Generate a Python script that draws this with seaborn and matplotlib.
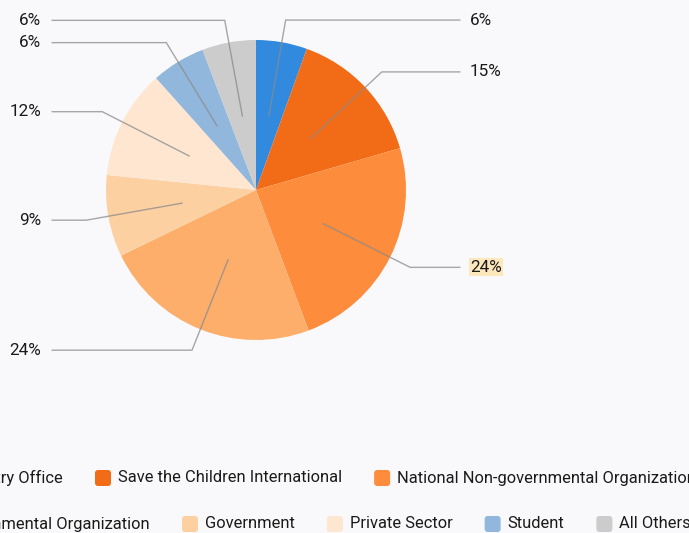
import numpy as np
import matplotlib
matplotlib.use("Agg")
import matplotlib.pyplot as plt
import seaborn as sns
from matplotlib.patches import FancyBboxPatch

categories = ["Country Office", "Save the Children International",
              "National Non-governmental Organization",
              "International Non-governmental Organization",
              "Government", "Private Sector", "Student", "All Others"]
shares = [5.5, 15.0, 23.8, 23.5, 8.8, 11.8, 5.8, 5.8]
labels = ["6%", "15%", "24%", "24%", "9%", "12%", "6%", "6%"]
colors = ["#318ade", "#f26c17", "#fd8c3c", "#fdae6b", "#fdd0a2",
          "#fee6d0", "#92b7dc", "#cccccc"]
legend_rows = [[0, 1, 2], [3, 4, 5, 6, 7]]

sns.set_theme(style="white")
plt.rcParams["font.family"] = ["Roboto", "DejaVu Sans"]

W, H = 689, 533
BG = "#f9f9fb"
fig = plt.figure(figsize=(W / 100, H / 100), dpi=100, facecolor=BG)
ax = fig.add_axes([0, 0, 1, 1])
ax.set_facecolor(BG)

cx, cy, R = 256, H - 190, 150
wedges, _ = ax.pie(shares, colors=colors, startangle=90, counterclock=False,
                   center=(cx, cy), radius=R, wedgeprops=dict(linewidth=0))
ax.set_xlim(0, W)
ax.set_ylim(0, H)
ax.set_aspect("auto")
ax.axis("off")

total = sum(shares)
cum = 0
for i, v in enumerate(shares):
    mid = (cum + v / 2) / total * 2 * np.pi
    cum += v
    dx, dy = np.sin(mid), np.cos(mid)
    p0 = (cx + 0.5 * R * dx, cy + 0.5 * R * dy)
    p1 = (cx + 1.15 * R * dx, cy + 1.15 * R * dy)
    right = dx >= 0
    xend = 460 if right else 52
    ax.plot([p0[0], p1[0], xend], [p0[1], p1[1], p1[1]], color="#8a8a8a",
            lw=1.0, alpha=0.75, solid_joinstyle="miter")
    kw = dict(fontsize=12.3, color="#1a1a1a", va="center")
    if right:
        bbox = None
        if i == 2:
            bbox = dict(boxstyle="square,pad=0.08", fc="#fde7bd", ec="none")
        ax.text(470, p1[1], labels[i], ha="left", bbox=bbox, **kw)
    else:
        ax.text(41, p1[1], labels[i], ha="right", **kw)

# legend rows
fig.canvas.draw()
renderer = fig.canvas.get_renderer()
fs = 11.9
def text_w(s):
    t = fig.text(0, 0, s, fontsize=fs)
    w = t.get_window_extent(renderer).width
    t.remove()
    return w

sw, gap_t, gap_i = 16, 7, 32
anchors = [(1, 95), (1, 182)]
row_y = [H - 478, H - 524]
for row, (anchor_idx, anchor_x), y in zip(legend_rows, anchors, row_y):
    widths = [sw + gap_t + text_w(categories[k]) for k in row]
    x = anchor_x - sum(widths[:anchor_idx]) - gap_i * anchor_idx
    for k, w in zip(row, widths):
        patch = FancyBboxPatch((x, y - sw / 2), sw, sw,
                               boxstyle="round,pad=0,rounding_size=3",
                               fc=colors[k], ec="none",
                               transform=None, figure=fig)
        fig.patches.append(patch)
        fig.text(x + sw + gap_t, y, categories[k], fontsize=fs,
                 color="#1a1a1a", va="center", ha="left",
                 transform=None)
        x += w + gap_i

fig.savefig("out.png", dpi=100, facecolor=BG)
